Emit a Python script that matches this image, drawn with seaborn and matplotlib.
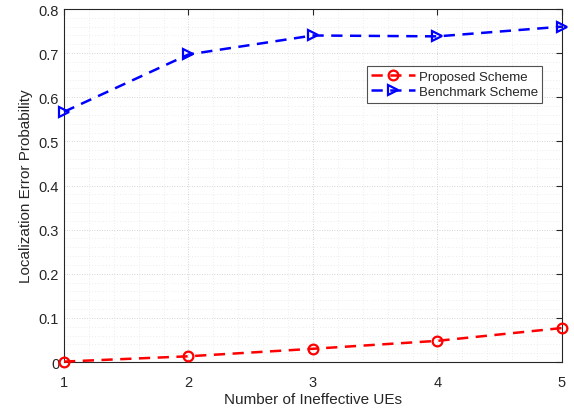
import numpy as np
import pandas as pd
import matplotlib
matplotlib.use("Agg")
import matplotlib.pyplot as plt
import seaborn as sns
from matplotlib.ticker import MultipleLocator, FuncFormatter

# data
num_ues = [1, 2, 3, 4, 5]
proposed = [0.001, 0.013, 0.030, 0.048, 0.077]
benchmark = [0.567, 0.697, 0.740, 0.738, 0.760]

sns.set_style("white")
plt.rcParams["font.family"] = ["Liberation Sans", "DejaVu Sans"]

df = pd.DataFrame({
    "ues": num_ues * 2,
    "prob": proposed + benchmark,
    "scheme": ["Proposed Scheme"] * 5 + ["Benchmark Scheme"] * 5,
})

fig = plt.figure(figsize=(5.74, 4.10), dpi=100)
ax = fig.add_axes([0.1115, 0.1146, 0.8675, 0.861])

styles = {
    "Proposed Scheme": ("#ff0000", "o"),
    "Benchmark Scheme": ("#0000ff", ">"),
}
for name, (col, mk) in styles.items():
    sub = df[df["scheme"] == name]
    sns.lineplot(data=sub, x="ues", y="prob", ax=ax, color=col,
                 linestyle=(0, (4.5, 3)), linewidth=1.8, marker=mk, markersize=7,
                 markerfacecolor="none", markeredgecolor=col,
                 markeredgewidth=1.6, label=name, clip_on=False, zorder=5)

ax.set_xlim(1, 5)
ax.set_ylim(0, 0.8)
ax.xaxis.set_major_locator(MultipleLocator(1))
ax.xaxis.set_minor_locator(MultipleLocator(0.2))
ax.yaxis.set_major_locator(MultipleLocator(0.1))
ax.yaxis.set_minor_locator(MultipleLocator(0.02))
ax.yaxis.set_major_formatter(FuncFormatter(lambda v, p: "0" if abs(v) < 1e-9 else f"{v:.1f}"))

ax.grid(True, which="major", linestyle=(0, (1, 2)), color="#c8c8c8", linewidth=0.6)
ax.grid(True, which="minor", linestyle=(0, (1, 3)), color="#dedede", linewidth=0.5)
ax.set_axisbelow(True)

for sp in ax.spines.values():
    sp.set_color("#262626")
    sp.set_linewidth(0.8)
ax.tick_params(which="major", direction="in", length=4, top=True, right=True,
               labelsize=10.5, colors="#262626", width=0.8)
ax.tick_params(axis="x", which="major", pad=9.5)
ax.tick_params(which="minor", length=0)

ax.set_xlabel("Number of Ineffective UEs", fontsize=11, color="#262626", labelpad=2)
ax.set_ylabel("Localization Error Probability", fontsize=11, color="#262626", labelpad=4)

leg = ax.legend(loc="upper right", bbox_to_anchor=(0.974, 0.858), fontsize=9.5,
                frameon=True, fancybox=False, edgecolor="#262626",
                handlelength=3.3, borderpad=0.35, labelspacing=0.25, handletextpad=0.3)
leg.get_frame().set_linewidth(0.8)

fig.savefig("out.png", dpi=100)
